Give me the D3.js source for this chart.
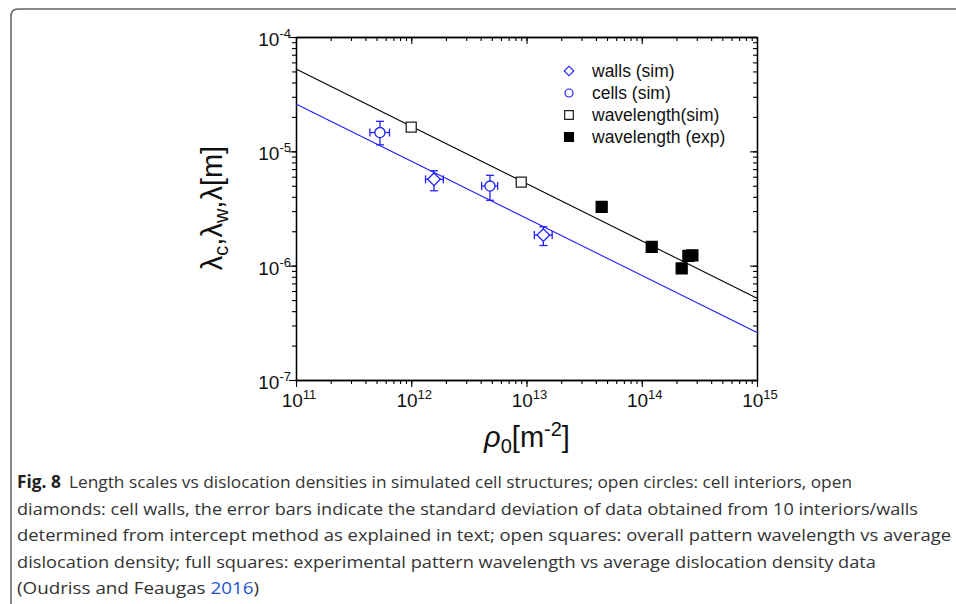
<!DOCTYPE html>
<html><head><meta charset="utf-8">
<script src="https://cdn.jsdelivr.net/npm/d3@7"></script>
<style>body{margin:0;background:#fff}svg{display:block}</style>
</head><body>
<script>
// ---- data ----
const xTickValues = [1e11, 1e12, 1e13, 1e14, 1e15];
const xTickExps = ["11", "12", "13", "14", "15"];
const yTickValues = [1e-7, 1e-6, 1e-5, 1e-4];
const yTickExps = ["-7", "-6", "-5", "-4"];

const wallsX = [1.575e12, 1.40e13];
const wallsY = [5.69e-6, 1.85e-6];
const wallsXLo = [1.33e12, 1.17e13];
const wallsXHi = [1.90e12, 1.67e13];
const wallsYLo = [4.52e-6, 1.50e-6];
const wallsYHi = [6.76e-6, 2.19e-6];

const cellsX = [5.35e11, 4.82e12];
const cellsY = [1.46e-5, 4.97e-6];
const cellsXLo = [4.38e11, 4.08e12];
const cellsXHi = [6.47e11, 5.62e12];
const cellsYLo = [1.14e-5, 3.73e-6];
const cellsYHi = [1.83e-5, 6.17e-6];

const simX = [1.0e12, 9.0e12];
const simY = [1.63e-5, 5.38e-6];

const expX = [4.49e13, 1.22e14, 2.22e14, 2.54e14, 2.75e14];
const expY = [3.27e-6, 1.46e-6, 9.46e-7, 1.22e-6, 1.23e-6];

const fitBlackX = [1e11, 1e15];
const fitBlackY = [5.25e-5, 5.2e-7];
const fitBlueX = [1e11, 1e15];
const fitBlueY = [2.6e-5, 2.6e-7];

const legendLabels = ["walls (sim)", "cells (sim)", "wavelength(sim)", "wavelength (exp)"];

const captionBold = "Fig. 8";
const captionLines = [
  "Length scales vs dislocation densities in simulated cell structures; open circles: cell interiors, open",
  "diamonds: cell walls, the error bars indicate the standard deviation of data obtained from 10 interiors/walls",
  "determined from intercept method as explained in text; open squares: overall pattern wavelength vs average",
  "dislocation density; full squares: experimental pattern wavelength vs average dislocation density data",
  "(Oudriss and Feaugas "
];
const captionLink = "2016";

// ---- drawing ----
const W = 956, H = 604;
const BLUE = "#1f1fff";
const svg = d3.select("body").append("svg").attr("width", W).attr("height", H);

// figure frame
svg.append("path").attr("d", "M11,604 V16 Q11,9 18,9 H956")
  .attr("fill", "none").attr("stroke", "#666").attr("stroke-width", 1.6);

const L = 296, R = 757, T = 37, B = 380;
const x = d3.scaleLog().domain([1e11, 1e15]).range([L, R]);
const y = d3.scaleLog().domain([1e-7, 1e-4]).range([B, T]);
const AF = "'Liberation Sans', Arial, sans-serif";

function styleAxis(g) {
  g.select(".domain").attr("stroke", "#000").attr("stroke-width", 1.3);
  g.selectAll(".tick line").attr("stroke", "#000").attr("stroke-width", 1.1);
  g.selectAll(".tick text").remove();
}
const xMinor = x.ticks(), yMinor = y.ticks();
// bottom (outward)
svg.append("g").attr("transform", `translate(0,${B})`)
  .call(d3.axisBottom(x).tickValues(xMinor).tickSizeInner(4).tickSizeOuter(0)).call(styleAxis);
svg.append("g").attr("transform", `translate(0,${B})`)
  .call(d3.axisBottom(x).tickValues(xTickValues).tickSizeInner(7).tickSizeOuter(0)).call(styleAxis);
// top (inward)
svg.append("g").attr("transform", `translate(0,${T})`)
  .call(d3.axisTop(x).tickValues(xMinor).tickSizeInner(-4).tickSizeOuter(0)).call(styleAxis);
svg.append("g").attr("transform", `translate(0,${T})`)
  .call(d3.axisTop(x).tickValues(xTickValues).tickSizeInner(-7).tickSizeOuter(0)).call(styleAxis);
// left (outward)
svg.append("g").attr("transform", `translate(${L},0)`)
  .call(d3.axisLeft(y).tickValues(yMinor).tickSizeInner(4).tickSizeOuter(0)).call(styleAxis);
svg.append("g").attr("transform", `translate(${L},0)`)
  .call(d3.axisLeft(y).tickValues(yTickValues).tickSizeInner(7).tickSizeOuter(0)).call(styleAxis);
// right (inward)
svg.append("g").attr("transform", `translate(${R},0)`)
  .call(d3.axisRight(y).tickValues(yMinor).tickSizeInner(-4).tickSizeOuter(0)).call(styleAxis);
svg.append("g").attr("transform", `translate(${R},0)`)
  .call(d3.axisRight(y).tickValues(yTickValues).tickSizeInner(-7).tickSizeOuter(0)).call(styleAxis);

// tick labels
xTickValues.forEach((v, i) => {
  const t = svg.append("text").attr("x", x(v) + 3).attr("y", B + 27)
    .attr("text-anchor", "middle").attr("font-family", AF).attr("font-size", 19).attr("fill", "#111");
  t.append("tspan").text("10");
  t.append("tspan").attr("font-size", 13).attr("dy", -8).text(xTickExps[i]);
});
yTickValues.forEach((v, i) => {
  const t = svg.append("text").attr("x", L - 5).attr("y", y(v) + 9)
    .attr("text-anchor", "end").attr("font-family", AF).attr("font-size", 19).attr("fill", "#111");
  t.append("tspan").text("10");
  t.append("tspan").attr("font-size", 13).attr("dy", -8).text(yTickExps[i]);
});

// axis titles
const yl = svg.append("text").attr("transform", "translate(222,208) rotate(-90)")
  .attr("text-anchor", "middle").attr("font-family", AF).attr("font-size", 29).attr("fill", "#111");
yl.append("tspan").text("λ");
yl.append("tspan").attr("font-size", 20).attr("dy", 6).text("c");
yl.append("tspan").attr("dy", -6).text(",λ");
yl.append("tspan").attr("font-size", 20).attr("dy", 6).text("w");
yl.append("tspan").attr("dy", -6).text(",λ[m]");

const xl = svg.append("text").attr("x", 527).attr("y", 447)
  .attr("text-anchor", "middle").attr("font-family", AF).attr("font-size", 29).attr("fill", "#111");
xl.append("tspan").attr("font-style", "italic").text("ρ");
xl.append("tspan").attr("font-size", 20).attr("dy", 6).text("0");
xl.append("tspan").attr("dy", -6).text("[m");
xl.append("tspan").attr("font-size", 20).attr("dy", -11).text("-2");
xl.append("tspan").attr("dy", 11).text("]");

// fit lines
const line = d3.line().x(d => x(d[0])).y(d => y(d[1]));
svg.append("path").datum(d3.zip(fitBlackX, fitBlackY)).attr("d", line)
  .attr("fill", "none").attr("stroke", "#000").attr("stroke-width", 1.1);
svg.append("path").datum(d3.zip(fitBlueX, fitBlueY)).attr("d", line)
  .attr("fill", "none").attr("stroke", BLUE).attr("stroke-width", 1.1);

// error bars
function errBars(xs, ys, xlo, xhi, ylo, yhi) {
  const g = svg.append("g").attr("stroke", BLUE).attr("stroke-width", 1.3).attr("fill", "none");
  xs.forEach((xv, i) => {
    const cx = x(xv), cy = y(ys[i]);
    const c = 4;
    g.append("line").attr("x1", cx).attr("x2", cx).attr("y1", y(ylo[i])).attr("y2", y(yhi[i]));
    g.append("line").attr("x1", cx - c).attr("x2", cx + c).attr("y1", y(ylo[i])).attr("y2", y(ylo[i]));
    g.append("line").attr("x1", cx - c).attr("x2", cx + c).attr("y1", y(yhi[i])).attr("y2", y(yhi[i]));
    g.append("line").attr("y1", cy).attr("y2", cy).attr("x1", x(xlo[i])).attr("x2", x(xhi[i]));
    g.append("line").attr("y1", cy - c).attr("y2", cy + c).attr("x1", x(xlo[i])).attr("x2", x(xlo[i]));
    g.append("line").attr("y1", cy - c).attr("y2", cy + c).attr("x1", x(xhi[i])).attr("x2", x(xhi[i]));
  });
}
errBars(wallsX, wallsY, wallsXLo, wallsXHi, wallsYLo, wallsYHi);
errBars(cellsX, cellsY, cellsXLo, cellsXHi, cellsYLo, cellsYHi);

const sq = (s) => d3.symbol().type(d3.symbolSquare).size(s);
const ci = (s) => d3.symbol().type(d3.symbolCircle).size(s);

function markers(xs, ys, gen, fill, stroke, rot) {
  svg.append("g").selectAll("path").data(d3.zip(xs, ys)).join("path")
    .attr("d", gen())
    .attr("transform", d => `translate(${x(d[0])},${y(d[1])}) rotate(${rot})`)
    .attr("fill", fill).attr("stroke", stroke).attr("stroke-width", 1.3);
}
markers(wallsX, wallsY, sq(80), "#fff", BLUE, 45);
markers(cellsX, cellsY, ci(80), "#fff", BLUE, 0);
markers(simX, simY, sq(100), "#fff", "#222", 0);
markers(expX, expY, sq(120), "#000", "#000", 0);

// legend
const legY = [71, 93, 115, 137];
const legGens = [sq(45), ci(50), sq(75), sq(80)];
const legFill = ["#fff", "#fff", "#fff", "#000"];
const legStroke = [BLUE, BLUE, "#222", "#000"];
const legRot = [45, 0, 0, 0];
legendLabels.forEach((lab, i) => {
  svg.append("path").attr("d", legGens[i]())
    .attr("transform", `translate(569,${legY[i]}) rotate(${legRot[i]})`)
    .attr("fill", legFill[i]).attr("stroke", legStroke[i]).attr("stroke-width", 1.2);
  svg.append("text").attr("x", 592).attr("y", legY[i] + 6)
    .attr("font-family", AF).attr("font-size", 17.5).attr("fill", "#111").text(lab);
});

// caption
const CF = "'Open Sans', 'Noto Sans', sans-serif";
const capEnds = [852, 918, 951, 876, 259];
captionLines.forEach((ln, i) => {
  const t = svg.append("text").attr("x", 17).attr("y", 488 + i * 26.6)
    .attr("font-family", CF).attr("font-size", 17).attr("fill", "#333")
    .attr("textLength", capEnds[i] - 17).attr("lengthAdjust", "spacingAndGlyphs");
  if (i === 0) {
    t.append("tspan").attr("font-weight", "bold").attr("fill", "#222").text(captionBold);
    t.append("tspan").attr("dx", 8).text(ln);
  } else if (i === 4) {
    t.append("tspan").text(ln);
    t.append("tspan").attr("fill", "#2255cc").text(captionLink);
    t.append("tspan").text(")");
  } else {
    t.text(ln);
  }
});
</script>
</body></html>
